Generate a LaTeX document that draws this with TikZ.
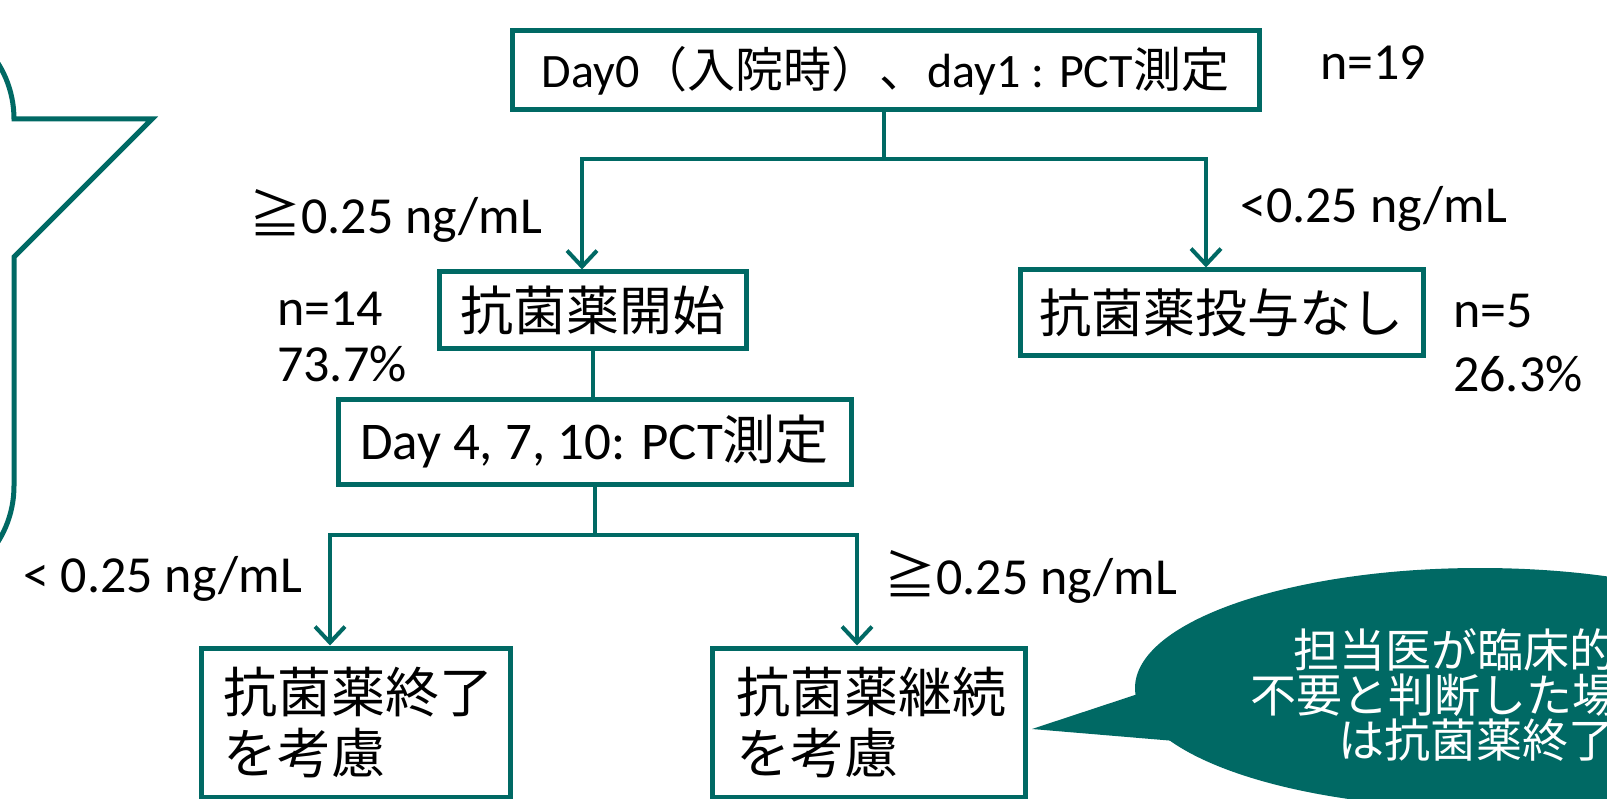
\documentclass[tikz,border=0pt]{standalone}
\usepackage{fontspec}
\setmainfont{Carlito}
\newfontfamily\jp{Noto Sans CJK JP}
\usetikzlibrary{arrows.meta}
\definecolor{teal1}{HTML}{006964}
\begin{document}
\begin{tikzpicture}[x=1pt,y=-1pt,
  box/.style={draw=teal1, line width=5pt, fill=white, inner sep=0pt, align=center},
  conn/.style={draw=teal1, line width=4pt},
  arr/.style={conn, -{Straight Barb[length=16pt,width=30pt]}},
  lbl/.style={anchor=base west, inner sep=0pt, font=\fontsize{52}{62}\selectfont},
  ctext/.style={anchor=base west, inner sep=0pt, text=white, font=\jp\fontsize{46}{54}\selectfont},
  ]
\useasboundingbox (0,0) rectangle (1607,799);
\clip (0,0) rectangle (1607,799);
\fill[white] (0,0) rectangle (1607,799);

% left callout (partly off the page)
\draw[draw=teal1, line width=5pt, fill=white] (-300,14) -- (-91,14)
  .. controls (-33,14) and (14,61) .. (14,119) -- (152,119) -- (14,257) -- (14,486)
  .. controls (14,544) and (-33,591) .. (-91,591) -- (-300,591);

% right callout
\fill[teal1] (1480,688) ellipse [x radius=345pt, y radius=120pt];
\fill[teal1] (1032,729) -- (1138,694) -- (1230,700) -- (1175,741) -- cycle;
\node[ctext] (c1) at (1293,667) {担当医が臨床的};
\node[ctext] (c2) at (1250,712) {不要と判断した場};
\node[ctext] (c3) at (1338,757) {は抗菌薬終了};

% boxes
\node[box, minimum width=747pt, minimum height=79pt, font=\fontsize{48}{58}\selectfont] (top) at (885.5,70.5) {Day0{\jp （入院時）、}day1 : PCT{\jp 測定}};
\node[lbl] (n19) at (1320,80) {n=19};
\node[lbl] (geA) at (249,234) {{\jp ≧}0.25 ng/mL};
\node[lbl] (ltA) at (1240,223) {<0.25 ng/mL};
\node[box, minimum width=307pt, minimum height=77pt, font=\jp\fontsize{53}{63}\selectfont] (start) at (592.5,310.5) {抗菌薬開始};
\node[lbl] (n14) at (277,326) {n=14};
\node[lbl] (p14) at (277,382) {73.7\%};
\node[box, minimum width=403pt, minimum height=86pt, font=\jp\fontsize{52}{62}\selectfont] (none) at (1221.5,313) {抗菌薬投与なし};
\node[lbl] (n5) at (1453,328) {n=5};
\node[lbl] (p5) at (1453,392) {26.3\%};
\node[box, minimum width=513pt, minimum height=84pt, font=\fontsize{53}{63}\selectfont] (day4) at (594.5,442) {Day 4, 7, 10: PCT{\jp 測定}};
\node[lbl] (ltB) at (23,592) {< 0.25 ng/mL};
\node[lbl] (geB) at (884,594) {{\jp ≧}0.25 ng/mL};
\node[box, minimum width=309pt, minimum height=149pt, text width=265pt, align=left, font=\jp\fontsize{54}{61}\selectfont] (endb) at (355.5,722.5) {抗菌薬終了\\を考慮};
\node[box, minimum width=313pt, minimum height=149pt, text width=265pt, align=left, font=\jp\fontsize{54}{61}\selectfont] (cont) at (868.5,722.5) {抗菌薬継続\\を考慮};

% connectors
\coordinate (j1) at (884,159);
\coordinate (jl) at (582,159);
\coordinate (jr) at (1206,159);
\draw[conn] (top.south -| j1) -- (j1);
\draw[arr] (j1) -| (jl |- start.north);
\draw[arr] (j1) -| (jr |- none.north);
\draw[conn] (start.south) -- (start.south |- day4.north);
\coordinate (j2) at (594.5,535);
\coordinate (jl2) at (330,535);
\coordinate (jr2) at (857,535);
\draw[conn] (day4.south) -- (j2);
\draw[arr] (j2) -| (jl2 |- endb.north);
\draw[arr] (j2) -| (jr2 |- cont.north);
\end{tikzpicture}
\end{document}
